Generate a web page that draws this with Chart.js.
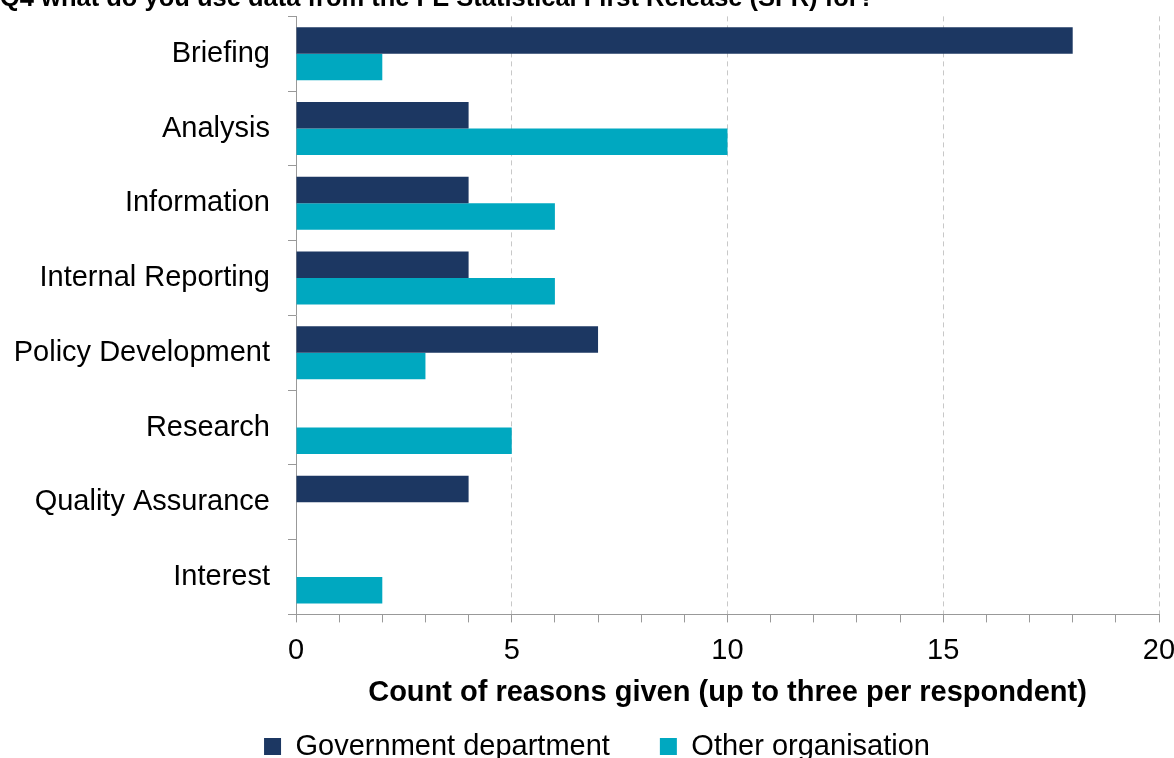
<!DOCTYPE html>
<html>
<head>
<meta charset="utf-8">
<script src="https://cdn.jsdelivr.net/npm/chart.js@4.4.1/dist/chart.umd.min.js"></script>
<style>
  html, body { margin: 0; padding: 0; background: #fff; overflow: hidden; }
  #wrap { position: absolute; left: 0; top: -19px; width: 1174px; height: 790px; }
</style>
</head>
<body>
<div id="wrap"><canvas id="sfrChart"></canvas></div>
<script>
const categories = ['Briefing', 'Analysis', 'Information', 'Internal Reporting',
  'Policy Development', 'Research', 'Quality Assurance', 'Interest'];
const governmentDept = [18, 4, 4, 4, 7, 0, 4, 0];
const otherOrg = [2, 10, 6, 6, 3, 5, 0, 2];
const xMin = 0, xMax = 20, labelStep = 5;

const FONT = "'Liberation Sans', Arial, sans-serif";
const ctx = document.getElementById('sfrChart').getContext('2d');

// nudge the legend to the right, as in the original
const legendShift = {
  id: 'legendShift',
  afterLayout(chart) {
    chart.legend.left += 10;
    chart.legend.right += 10;
  }
};

new Chart(ctx, {
  type: 'bar',
  data: {
    labels: categories,
    datasets: [
      { label: 'Government department', data: governmentDept, backgroundColor: '#1c3762' },
      { label: 'Other organisation', data: otherOrg, backgroundColor: '#00a8c0' }
    ]
  },
  plugins: [legendShift],
  options: {
    indexAxis: 'y',
    responsive: true,
    maintainAspectRatio: false,
    animation: false,
    layout: { padding: 0 },
    datasets: { bar: { categoryPercentage: 0.71, barPercentage: 1.0 } },
    plugins: {
      title: {
        display: true,
        text: 'Q4 what do you use data from the FE Statistical First Release (SFR) for?',
        align: 'start',
        color: '#000',
        font: { family: FONT, size: 25.5, weight: 'bold' },
        padding: { top: 0, bottom: 2 }
      },
      legend: {
        position: 'bottom',
        labels: {
          color: '#000',
          font: { family: FONT, size: 29 },
          boxWidth: 17, boxHeight: 17,
          padding: 50
        }
      },
      tooltip: { enabled: false }
    },
    scales: {
      x: {
        min: xMin, max: xMax,
        afterFit: s => { s.paddingRight = 15; },
        ticks: {
          stepSize: 1,
          autoSkip: false,
          maxRotation: 0,
          color: '#000',
          font: { family: FONT, size: 29 },
          padding: 11,
          callback: v => (v % labelStep === 0 ? v : '')
        },
        grid: {
          color: c => (c.tick && c.tick.value % labelStep === 0 && c.tick.value !== 0 ? '#c8c8c8' : 'rgba(0,0,0,0)'),
          tickColor: '#999',
          tickLength: 8,
          lineWidth: 1
        },
        border: { display: true, color: '#999', width: 1, dash: [5, 4] },
        title: {
          display: true,
          text: 'Count of reasons given (up to three per respondent)',
          color: '#000',
          font: { family: FONT, size: 29, weight: 'bold' },
          padding: { top: -4, bottom: -28 }
        }
      },
      y: {
        afterFit: s => { s.width = 296; },
        ticks: {
          color: '#000',
          font: { family: FONT, size: 29 },
          padding: 18
        },
        grid: {
          drawOnChartArea: false,
          offset: true,
          tickColor: '#999',
          tickLength: 8
        },
        border: { display: true, color: '#999', width: 1 }
      }
    }
  }
});
</script>
</body>
</html>
